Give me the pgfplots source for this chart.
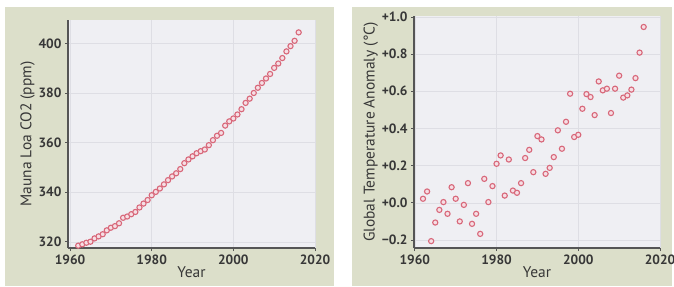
\documentclass[border=0pt]{standalone}
\usepackage{pgfplots}
\pgfplotsset{compat=1.18}
\usepackage{fontspec}
\setmainfont{PT Sans}
\definecolor{panelbg}{RGB}{220,223,202}
\definecolor{plotbg}{RGB}{239,239,243}
\definecolor{gridc}{RGB}{222,222,228}
\definecolor{axc}{RGB}{85,85,85}
\definecolor{txtc}{RGB}{55,55,55}
\definecolor{mkc}{RGB}{216,104,122}
\definecolor{mkfill}{RGB}{246,222,228}
\pgfplotsset{
  panel/.style={
    scale only axis,
    axis background/.style={fill=plotbg},
    axis x line*=bottom, axis y line*=left,
    axis line style={axc, line width=1.1bp},
    tick style={axc, line width=0.8bp},
    tick align=outside, major tick length=3bp,
    grid=major, major grid style={gridc, line width=0.6bp},
    ticklabel style={font=\fontsize{13.5}{14}\selectfont\bfseries, text=txtc},
    label style={font=\fontsize{15.5}{16}\selectfont, text=txtc},
    /pgf/number format/assume math mode=true,
    /pgf/number format/1000 sep={},
    xtick={1960,1980,2000,2020},
    xlabel={Year},
    xlabel style={yshift=4bp},
  },
  pts/.style={only marks, mark=*, mark size=2.6bp,
    mark options={draw=mkc, fill=mkfill, line width=1.1bp}},
}
\begin{document}
\begin{tikzpicture}[x=1bp,y=1bp]
\useasboundingbox (0,0) rectangle (674,286);
\fill[panelbg] (5,0) rectangle (334,279);
\fill[panelbg] (352,0) rectangle (672,279);
\begin{axis}[panel,
  at={(68bp,38bp)}, anchor=south west,
  width=247bp, height=228bp,
  xmin=1959.5, xmax=2020, ymin=317.5, ymax=409.4,
  ytick={320,340,360,380,400},
  ylabel={Mauna Loa CO2 (ppm)},
  ylabel style={yshift=-3bp},
]
\addplot[pts] coordinates {
(1962,318.45)(1963,318.99)(1964,319.62)(1965,320.04)(1966,321.37)(1967,322.18)
(1968,323.05)(1969,324.62)(1970,325.68)(1971,326.32)(1972,327.46)(1973,329.68)
(1974,330.19)(1975,331.12)(1976,332.03)(1977,333.84)(1978,335.41)(1979,336.84)
(1980,338.76)(1981,340.12)(1982,341.48)(1983,343.15)(1984,344.85)(1985,346.35)
(1986,347.61)(1987,349.31)(1988,351.69)(1989,353.20)(1990,354.45)(1991,355.70)
(1992,356.54)(1993,357.21)(1994,358.96)(1995,360.97)(1996,362.74)(1997,363.88)
(1998,366.84)(1999,368.54)(2000,369.71)(2001,371.32)(2002,373.45)(2003,375.98)
(2004,377.70)(2005,379.98)(2006,382.09)(2007,384.02)(2008,385.83)(2009,387.64)
(2010,390.10)(2011,391.85)(2012,394.06)(2013,396.74)(2014,398.87)(2015,401.01)
(2016,404.41)
};
\end{axis}
\begin{axis}[panel,
  at={(414bp,38bp)}, anchor=south west,
  width=246bp, height=232bp,
  xmin=1959.8, xmax=2020, ymin=-0.243, ymax=1.005,
  ytick={-0.2,0,0.2,0.4,0.6,0.8,1.0},
  yticklabels={−0.2,+0.0,+0.2,+0.4,+0.6,+0.8,+1.0},
  ylabel={Global Temperature Anomaly (°C)},
  ylabel style={yshift=-3bp},
]
\addplot[pts] coordinates {
(1962,0.022)(1963,0.061)(1964,-0.206)(1965,-0.106)(1966,-0.038)(1967,0.004)
(1968,-0.059)(1969,0.084)(1970,0.022)(1971,-0.100)(1972,-0.011)(1973,0.106)
(1974,-0.113)(1975,-0.059)(1976,-0.167)(1977,0.129)(1978,0.004)(1979,0.090)
(1980,0.210)(1981,0.255)(1982,0.039)(1983,0.233)(1984,0.066)(1985,0.054)
(1986,0.106)(1987,0.241)(1988,0.285)(1989,0.165)(1990,0.359)(1991,0.341)
(1992,0.156)(1993,0.188)(1994,0.246)(1995,0.390)(1996,0.291)(1997,0.436)
(1998,0.587)(1999,0.354)(2000,0.366)(2001,0.506)(2002,0.585)(2003,0.569)
(2004,0.472)(2005,0.653)(2006,0.605)(2007,0.614)(2008,0.483)(2009,0.614)
(2010,0.684)(2011,0.566)(2012,0.578)(2013,0.609)(2014,0.671)(2015,0.808)
(2016,0.946)
};
\end{axis}
\end{tikzpicture}
\end{document}
